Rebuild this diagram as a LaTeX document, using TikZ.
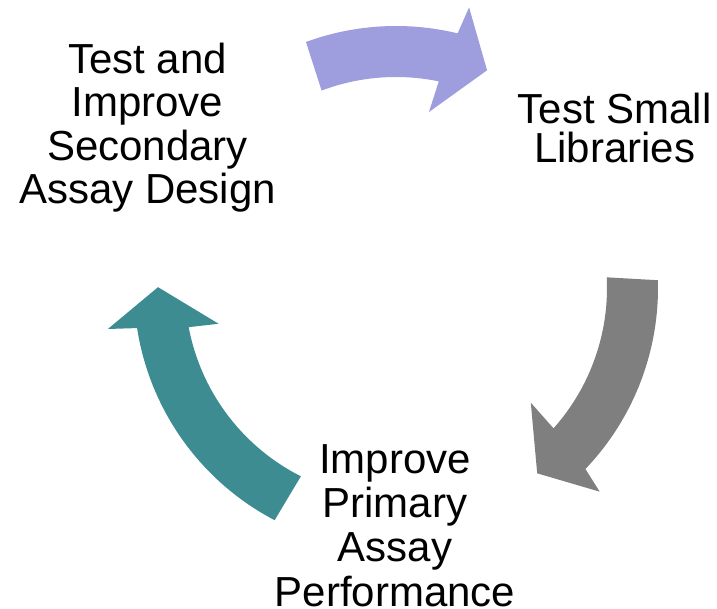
\documentclass[tikz,border=0pt]{standalone}
\usepackage{fontspec}
\setmainfont{Liberation Sans}
\definecolor{lavender}{HTML}{9E9EDE}
\definecolor{midgray}{HTML}{7F7F7F}
\definecolor{teal}{HTML}{3C8C92}
\begin{document}
\begin{tikzpicture}[x=1pt,y=1pt,
  stagetext/.style={align=center,inner sep=0pt,anchor=north,text=black}]
\useasboundingbox (0,0) rectangle (717,609);
\coordinate (C) at (396,321);

% three curved block arrows around the cycle centre
\begin{scope}[shift={(C)}]
  % top: secondary assay -> small libraries
  \fill[lavender] (110.1:262) arc[start angle=110.1,end angle=76.4,radius=262]
    -- (75.4:290) -- (67.3:236) -- (79.4:179) -- (78.3:211)
    arc[start angle=78.3,end angle=110.65,radius=211] -- cycle;
  % right: small libraries -> primary assay
  \fill[midgray] (1.7:262) arc[start angle=1.7,end angle=-43.7,radius=262]
    -- (-45:288) -- (-52.7:233) -- (-40.4:177) -- (-41.7:211)
    arc[start angle=-41.7,end angle=2.9,radius=211] -- cycle;
  % left: primary assay -> secondary assay
  \fill[teal] (242.4:262) arc[start angle=242.4,end angle=188.8,radius=262]
    -- (188.1:291) -- (179.8:238) -- (191.4:181) -- (190.7:211)
    arc[start angle=190.7,end angle=243.2,radius=211] -- cycle;
\end{scope}

% stage labels
\node[stagetext,font=\fontsize{42}{43.3}\selectfont] (secondary) at (147.5,566)
  {Test and\\Improve\\Secondary\\Assay Design};
\node[stagetext,font=\fontsize{42}{39}\selectfont] (libraries) at (614.7,516)
  {Test Small\\Libraries};
\node[stagetext,font=\fontsize{42}{44.4}\selectfont] (primary) at (395,165)
  {Improve\\Primary\\Assay\\Performance};
\end{tikzpicture}
\end{document}
